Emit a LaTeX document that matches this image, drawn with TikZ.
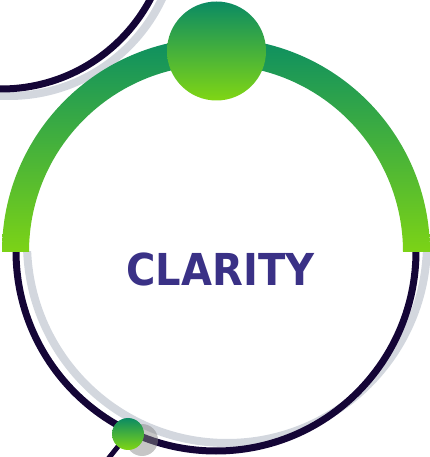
\documentclass[tikz,border=0pt]{standalone}
\usepackage{fontspec}
\newfontfamily\titlefont{DejaVu Sans}
\definecolor{darkring}{RGB}{20,5,54}
\definecolor{shadowring}{RGB}{211,215,222}
\definecolor{gtop}{RGB}{13,143,97}
\definecolor{gbot}{RGB}{124,211,22}
\definecolor{ctop}{RGB}{11,139,99}
\definecolor{cbot}{RGB}{128,214,20}
\definecolor{titlecol}{RGB}{58,49,134}
\definecolor{dotshadow}{RGB}{135,135,135}
\begin{document}
\begin{tikzpicture}[x=1pt,y=1pt,
  darkline/.style={draw=darkring,line width=7pt},
  shadowline/.style={draw=shadowring,line width=8pt},
  greenfill/.style={top color=gtop,bottom color=gbot},
  greenball/.style={circle,inner sep=0pt,top color=ctop,bottom color=cbot}]
\useasboundingbox (0,0) rectangle (430,457);
\clip (0,0) rectangle (430,457);
% top-left ring
\draw[shadowline] (9,530) circle[radius=169pt];
\draw[darkline] (1,537) circle[radius=169pt];
% main ring lower part
\begin{scope}
\clip (0,0) rectangle (430,205.5);
\draw[shadowline] (227,214) circle[radius=200pt];
\draw[darkline] (216,206) circle[radius=200pt];
\end{scope}
% green half ring
\path[greenfill] (2,205) arc[start angle=180,end angle=0,radius=214pt]
  -- (403,205) arc[start angle=0,end angle=180,radius=187pt] -- cycle;
% top ball
\node[greenball,minimum size=99pt] (topball) at (216.5,406) {};
% small dot with stub line and shadow
\coordinate (dotc) at (128,23);
\coordinate (tail) at (100,-12);
\draw[draw=darkring,line width=5pt] (dotc) -- (tail);
\fill[dotshadow,opacity=0.48] (142,17) circle[radius=16pt];
\node[greenball,minimum size=32pt] (dot) at (dotc) {};
% title
\node[text=titlecol,inner sep=0pt] (title) at (220.5,188)
  {\scalebox{0.91}[1]{\titlefont\bfseries\fontsize{44}{50}\selectfont CLARITY}};
\end{tikzpicture}
\end{document}
